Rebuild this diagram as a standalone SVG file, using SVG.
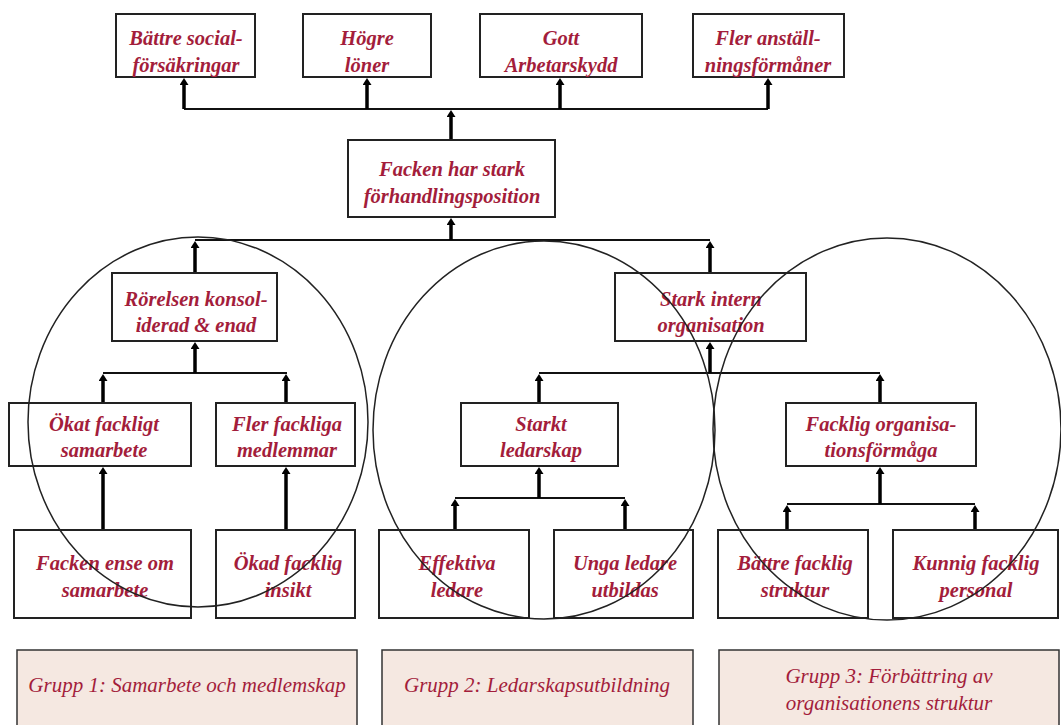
<svg xmlns="http://www.w3.org/2000/svg" width="1061" height="725" viewBox="0 0 1061 725">
<style>
.box{fill:#fff;stroke:#222;stroke-width:2}
.grp{fill:#f5e8e1;stroke:#333;stroke-width:1.5}
.t{font-family:"Liberation Serif",serif;font-style:italic;font-weight:bold;font-size:20.5px;fill:#a31d3b;text-anchor:middle}
.g{font-family:"Liberation Serif",serif;font-style:italic;font-size:21px;fill:#a31d3b;text-anchor:middle}
.h{fill:none;stroke:#111;stroke-width:2}
.v{fill:none;stroke:#000;stroke-width:3.5;marker-end:url(#ah)}
.circ{fill:none;stroke:#222;stroke-width:1.5}
</style>
<defs>
<marker id="ah" markerUnits="userSpaceOnUse" markerWidth="7" markerHeight="9" viewBox="0 0 7 9" refX="0" refY="4.5" orient="auto">
<path d="M0,0 L7,4.5 L0,9 Z" fill="#000"/>
</marker>
</defs>
<rect width="1061" height="725" fill="#fff"/>

<g id="connectors">
<path class="h" d="M184,109 H768"/>
<path class="v" d="M184,109 V85"/>
<path class="v" d="M367,109 V85"/>
<path class="v" d="M560,109 V85"/>
<path class="v" d="M768,109 V85"/>
<path class="v" d="M451,140 V117"/>
<path class="h" d="M195,240 H710"/>
<path class="v" d="M451,240 V225"/>
<path class="v" d="M195,273 V248"/>
<path class="v" d="M710,273 V248"/>
<path class="h" d="M103,373 H287"/>
<path class="v" d="M195,373 V349"/>
<path class="v" d="M103,403 V381"/>
<path class="v" d="M286,403 V381"/>
<path class="v" d="M103,530 V474"/>
<path class="v" d="M286,530 V474"/>
<path class="h" d="M539,373 H880"/>
<path class="v" d="M710,373 V349"/>
<path class="v" d="M539,403 V381"/>
<path class="v" d="M880,403 V381"/>
<path class="h" d="M455,498 H625"/>
<path class="v" d="M539,498 V474"/>
<path class="v" d="M455,530 V506"/>
<path class="v" d="M625,530 V506"/>
<path class="h" d="M787,504 H975"/>
<path class="v" d="M880,504 V474"/>
<path class="v" d="M787,530 V512"/>
<path class="v" d="M975,530 V512"/>
</g>

<g id="n1"><rect class="box" x="116" y="14" width="139" height="63"/><text class="t" x="186" y="45">Bättre social-</text><text class="t" x="186" y="72">försäkringar</text></g>
<g id="n2"><rect class="box" x="303" y="14" width="128" height="63"/><text class="t" x="367" y="45">Högre</text><text class="t" x="367" y="72">löner</text></g>
<g id="n3"><rect class="box" x="480" y="14" width="162" height="63"/><text class="t" x="561" y="45">Gott</text><text class="t" x="561" y="72">Arbetarskydd</text></g>
<g id="n4"><rect class="box" x="693" y="14" width="151" height="63"/><text class="t" x="768" y="45">Fler anställ-</text><text class="t" x="768" y="72">ningsförmåner</text></g>
<g id="n5"><rect class="box" x="348" y="140" width="207" height="77"/><text class="t" x="452" y="176">Facken har stark</text><text class="t" x="452" y="203">förhandlingsposition</text></g>
<g id="n6"><rect class="box" x="112" y="273" width="165" height="68"/><text class="t" x="196" y="306">Rörelsen konsol-</text><text class="t" x="196" y="332">iderad &amp; enad</text></g>
<g id="n7"><rect class="box" x="615" y="273" width="191" height="68"/><text class="t" x="711" y="306">Stark intern</text><text class="t" x="711" y="332">organisation</text></g>
<g id="n8"><rect class="box" x="9" y="403" width="182" height="63"/><text class="t" x="104" y="431">Ökat fackligt</text><text class="t" x="104" y="457">samarbete</text></g>
<g id="n9"><rect class="box" x="216" y="403" width="139" height="63"/><text class="t" x="287" y="431">Fler fackliga</text><text class="t" x="287" y="457">medlemmar</text></g>
<g id="n10"><rect class="box" x="461" y="403" width="157" height="63"/><text class="t" x="541" y="431">Starkt</text><text class="t" x="541" y="457">ledarskap</text></g>
<g id="n11"><rect class="box" x="786" y="403" width="190" height="63"/><text class="t" x="881" y="431">Facklig organisa-</text><text class="t" x="881" y="457">tionsförmåga</text></g>
<g id="n12"><rect class="box" x="14" y="530" width="177" height="88"/><text class="t" x="105" y="570">Facken ense om</text><text class="t" x="105" y="597">samarbete</text></g>
<g id="n13"><rect class="box" x="216" y="530" width="139" height="88"/><text class="t" x="288" y="570">Ökad facklig</text><text class="t" x="288" y="597">insikt</text></g>
<g id="n14"><rect class="box" x="379" y="530" width="150" height="88"/><text class="t" x="457" y="570">Effektiva</text><text class="t" x="457" y="597">ledare</text></g>
<g id="n15"><rect class="box" x="554" y="530" width="139" height="88"/><text class="t" x="625" y="570">Unga ledare</text><text class="t" x="625" y="597">utbildas</text></g>
<g id="n16"><rect class="box" x="718" y="530" width="150" height="88"/><text class="t" x="795" y="570">Bättre facklig</text><text class="t" x="795" y="597">struktur</text></g>
<g id="n17"><rect class="box" x="893" y="530" width="165" height="88"/><text class="t" x="976" y="570">Kunnig facklig</text><text class="t" x="976" y="597">personal</text></g>

<g id="circles">
<ellipse class="circ" cx="198" cy="422" rx="170" ry="185"/>
<ellipse class="circ" cx="544" cy="430" rx="171" ry="189"/>
<ellipse class="circ" cx="887" cy="429" rx="174" ry="191"/>
</g>

<g id="grp1"><rect class="grp" x="17" y="650" width="340" height="80"/><text class="g" x="187" y="692">Grupp 1: Samarbete och medlemskap</text></g>
<g id="grp2"><rect class="grp" x="382" y="650" width="311" height="80"/><text class="g" x="537" y="692">Grupp 2: Ledarskapsutbildning</text></g>
<g id="grp3"><rect class="grp" x="719" y="650" width="340" height="80"/><text class="g" x="889" y="683">Grupp 3: Förbättring av</text><text class="g" x="889" y="710">organisationens struktur</text></g>
</svg>
